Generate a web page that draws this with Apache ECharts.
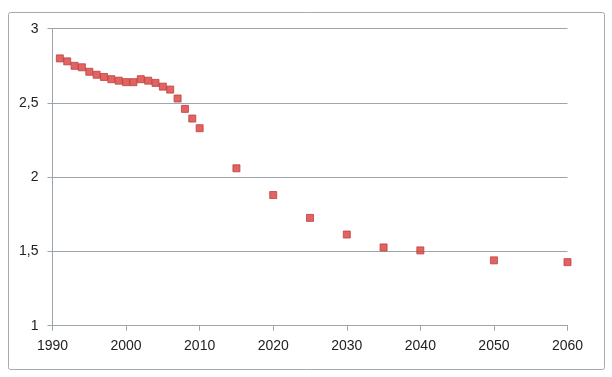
<!DOCTYPE html>
<html>
<head>
<meta charset="utf-8">
<script src="https://cdn.jsdelivr.net/npm/echarts@6/dist/echarts.min.js"></script>
<style>
    html, body { margin: 0; padding: 0; background: #fff; }
    #main { width: 612px; height: 377px; }
</style>
</head>
<body>
<div id="main"></div>
<script>
// 年份与数值
var years = [1991, 1992, 1993, 1994, 1995, 1996, 1997, 1998, 1999, 2000,
    2001, 2002, 2003, 2004, 2005, 2006, 2007, 2008, 2009, 2010,
    2015, 2020, 2025, 2030, 2035, 2040, 2050, 2060];
var values = [2.80, 2.78, 2.75, 2.74, 2.71, 2.69, 2.675, 2.66, 2.65, 2.64,
    2.64, 2.66, 2.65, 2.635, 2.61, 2.59, 2.53, 2.46, 2.395, 2.33,
    2.06, 1.88, 1.726, 1.614, 1.527, 1.507, 1.44, 1.428];

var axisColor = '#9aa6ab';
var fontFamily = 'Liberation Sans, Arial, sans-serif';

var points = [];
for (var i = 0; i < years.length; i++) {
    points.push([years[i], values[i]]);
}

var chart = echarts.init(document.getElementById('main'), null, { renderer: 'canvas' });
var option = {
    animation: false,
    backgroundColor: '#fff',
    graphic: [{
        type: 'rect',
        left: 6,
        top: 10,
        shape: { width: 596, height: 357, r: 2 },
        style: { fill: 'none', stroke: '#a3abae', lineWidth: 1 },
        silent: true
    }],
    grid: {
        left: 52.5,
        right: 44.5,
        top: 28.7,
        bottom: 51.3
    },
    xAxis: {
        type: 'value',
        min: 1990,
        max: 2060,
        interval: 10,
        axisLine: { show: true, lineStyle: { color: axisColor, width: 1 } },
        axisTick: { show: true, length: 5, lineStyle: { color: axisColor } },
        splitLine: { show: false },
        axisLabel: {
            color: '#222',
            fontSize: 14,
            fontFamily: fontFamily,
            margin: 13,
            formatter: function (v) {
                return String(v);
            }
        }
    },
    yAxis: {
        type: 'value',
        min: 1,
        max: 3,
        interval: 0.5,
        axisLine: { show: true, lineStyle: { color: axisColor, width: 1 } },
        axisTick: { show: true, length: 5, lineStyle: { color: axisColor } },
        splitLine: { show: true, lineStyle: { color: axisColor, width: 1 } },
        axisLabel: {
            color: '#222',
            fontSize: 14,
            fontFamily: fontFamily,
            margin: 14,
            formatter: function (v) {
                return String(v).replace('.', ',');
            }
        }
    },
    series: [{
        type: 'scatter',
        symbol: 'rect',
        symbolSize: 7,
        itemStyle: {
            color: '#dc3c3c',
            borderColor: '#b8423f',
            borderWidth: 1
        },
        data: points
    }]
};
chart.setOption(option);
</script>
</body>
</html>
